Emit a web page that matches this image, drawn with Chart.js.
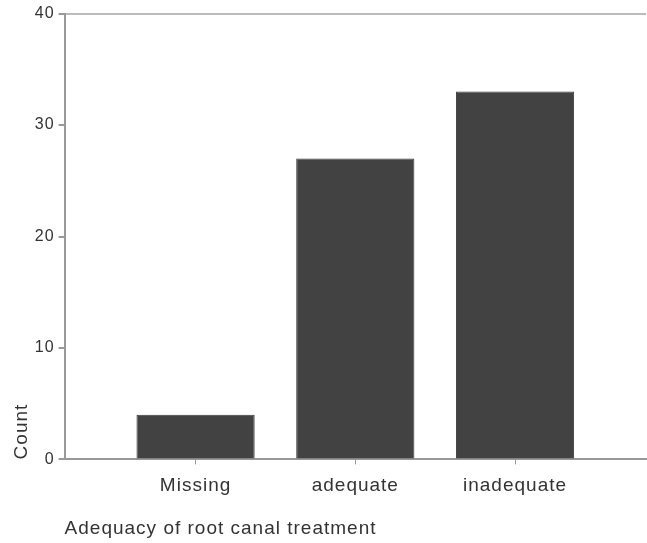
<!DOCTYPE html>
<html>
<head>
<meta charset="utf-8">
<script src="https://cdn.jsdelivr.net/npm/chart.js@4/dist/chart.umd.min.js"></script>
<style>
  html, body { margin: 0; padding: 0; background: #fff; }
  #wrap { width: 647px; height: 543px; }
</style>
</head>
<body>
<div id="wrap"><canvas id="chart" width="647" height="543"></canvas></div>
<script>
// Dữ liệu biểu đồ
const categories = ["Missing", "adequate", "inadequate"];
const counts = [4, 27, 33];
const yTicks = [0, 10, 20, 30, 40];

const points = categories.map((c, i) => ({ x: i, y: counts[i] }));

const FONT = "Liberation Sans, Arial";

// giãn chữ một chút cho giống ảnh gốc
const letterSpacingPlugin = {
  id: "letterSpacing",
  beforeDraw(chart) {
    chart.ctx.letterSpacing = "1px";
  },
};

new Chart(document.getElementById("chart").getContext("2d"), {
  type: "bar",
  data: {
    datasets: [
      {
        data: points,
        backgroundColor: "#424242",
        borderColor: "#3a3a3a",
        borderWidth: 1,
        barPercentage: 0.74,
        categoryPercentage: 1.0,
      },
    ],
  },
  plugins: [letterSpacingPlugin],
  options: {
    responsive: false,
    animation: false,
    layout: { padding: { top: 2, right: 1, left: 10, bottom: 3 } },
    plugins: {
      legend: { display: false },
      tooltip: { enabled: false },
    },
    scales: {
      x: {
        type: "linear",
        min: -0.82,
        max: 2.82,
        offset: false,
        afterBuildTicks: (axis) => {
          axis.ticks = categories.map((c, i) => ({ value: i }));
        },
        ticks: {
          callback: (v) => categories[v],
          color: "#333",
          font: { family: FONT, size: 19 },
          padding: 10,
          maxRotation: 0,
        },
        grid: {
          offset: false,
          drawOnChartArea: false,
          tickLength: 5,
          tickColor: "#999",
        },
        border: { color: "#999", width: 2 },
        title: {
          display: true,
          text: "Adequacy of root canal treatment",
          align: "start",
          color: "#333",
          font: { family: FONT, size: 19 },
          padding: { top: 10, bottom: 0 },
        },
      },
      y: {
        min: 0,
        max: 40,
        afterBuildTicks: (axis) => {
          axis.ticks = yTicks.map((v) => ({ value: v }));
        },
        ticks: {
          color: "#333",
          font: { family: FONT, size: 16 },
          padding: 4,
        },
        grid: {
          color: (ctx) => (ctx.tick && ctx.tick.value === 40 ? "#bbb" : "rgba(0,0,0,0)"),
          lineWidth: 2,
          tickLength: 6,
          tickColor: "#999",
        },
        border: { color: "#999", width: 2 },
        title: {
          display: true,
          text: "Count",
          align: "start",
          color: "#333",
          font: { family: FONT, size: 19 },
          padding: { top: 0, bottom: 0 },
        },
      },
    },
  },
});
</script>
</body>
</html>
